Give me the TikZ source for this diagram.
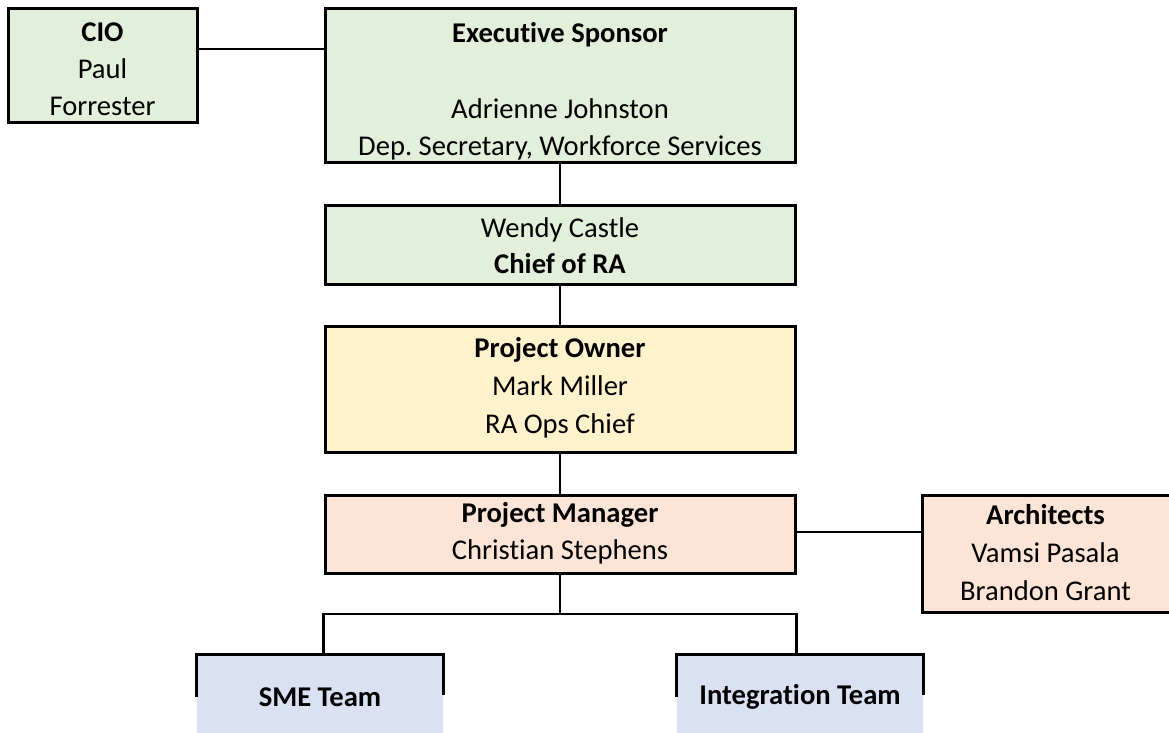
\documentclass[tikz,border=0pt]{standalone}
\usepackage{fontspec}
\setmainfont[Ligatures=NoCommon]{Carlito}
\usetikzlibrary{calc}
\definecolor{gfill}{HTML}{E2EFDA}
\definecolor{yfill}{HTML}{FFF2CC}
\definecolor{pfill}{HTML}{FCE4D6}
\definecolor{bfill}{HTML}{D9E1F2}
\frenchspacing
\tikzset{
  box/.style={draw=black, line width=3pt, rectangle, inner sep=0pt},
  openbox/.style={rectangle, inner sep=0pt},
  txt/.style={inner sep=0pt, align=center, font=\fontsize{28.6}{38}\selectfont},
  conn/.style={line width=2.8pt},
}
\begin{document}
\begin{tikzpicture}[x=1pt,y=-1pt]
\useasboundingbox (0,0) rectangle (1169,732);
\fill[white] (0,0) rectangle (1169,732);
% boxes
\node[box, fill=gfill, minimum width=189pt, minimum height=114pt] (cio) at (102.5,65) {};
\node[box, fill=gfill, minimum width=470pt, minimum height=154pt] (exec) at (560,85) {};
\node[box, fill=gfill, minimum width=470pt, minimum height=79pt] (wendy) at (560,245) {};
\node[box, fill=yfill, minimum width=470pt, minimum height=126pt] (po) at (560,389) {};
\node[box, fill=pfill, minimum width=470pt, minimum height=78pt] (pm) at (560,534) {};
\node[box, fill=pfill, minimum width=250pt, minimum height=117pt] (arch) at (1047,553.5) {};
\node[openbox, fill=bfill, minimum width=246pt, minimum height=84pt] (sme) at (320,697) {};
\node[openbox, fill=bfill, minimum width=246pt, minimum height=84pt] (int) at (800,697) {};
\draw[line width=3pt] ($(sme.north west)+(0,42)$) -- (sme.north west) -- (sme.north east) -- ($(sme.north east)+(0,40)$);
\draw[line width=3pt] ($(int.north west)+(0,42)$) -- (int.north west) -- (int.north east) -- ($(int.north east)+(0,40)$);
% texts
\node[txt] (cio-t) at (102.5,69.5) {\textbf{CIO}\\[-1pt]Paul\\[-1pt]Forrester};
\node[txt] (exec-t) at (560,91) {\textbf{Executive Sponsor}\\ \mbox{}\\ Adrienne Johnston\\[-1pt] Dep. Secretary, Workforce Services};
\node[txt] (wendy-t) at (560,246) {Wendy Castle\\[-2pt]\textbf{Chief of RA}};
\node[txt] (po-t) at (560,388) {\textbf{Project Owner}\\ Mark Miller\\ RA Ops Chief};
\node[txt] (pm-t) at (560,533.5) {\textbf{Project Manager}\\[-1pt] Christian Stephens};
\node[txt] (arch-t) at (1045.5,552.5) {\textbf{Architects}\\ Vamsi Pasala\\ Brandon Grant};
\node[txt, font=\fontsize{28.6}{38}\selectfont\bfseries] (sme-t) at (320,697) {SME Team};
\node[txt, font=\fontsize{28.6}{38}\selectfont\bfseries] (int-t) at (800,697) {Integration Team};
% connectors
\draw[conn] ([yshift=16pt]cio.east) -- ([yshift=16pt]cio.east -| exec.west);
\draw[conn] (exec.south) -- (wendy.north);
\draw[conn] (wendy.south) -- (po.north);
\draw[conn] (po.south) -- (pm.north);
\draw[conn] ([yshift=2pt]pm.east) -- ([yshift=2pt]pm.east -| arch.west);
\coordinate (bus) at (560,614);
\draw[conn] (pm.south) -- (bus);
\draw[conn] (sme.north -| pm.west) |- (bus) -| (int.north -| pm.east);
\end{tikzpicture}
\end{document}
